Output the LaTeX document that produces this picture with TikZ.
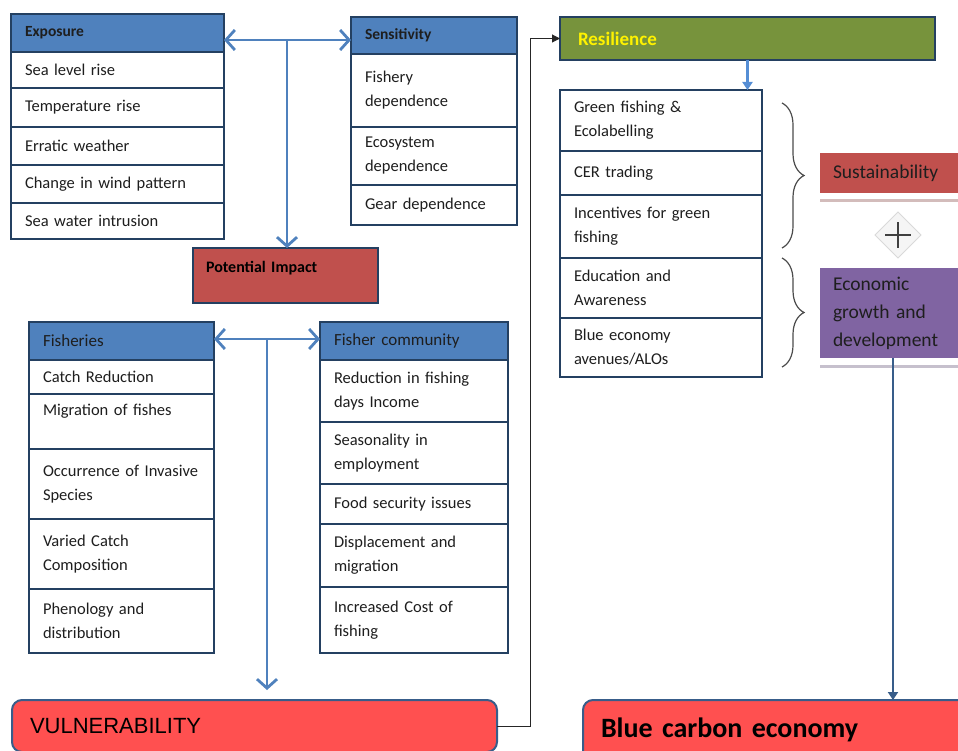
\documentclass[tikz,border=0pt]{standalone}
\usepackage{fontspec}
\setmainfont{Carlito}
\newfontfamily\arialfont{Liberation Sans}
\usepackage{xcolor}
\usetikzlibrary{arrows.meta, positioning, decorations.pathreplacing, shapes.geometric}
\definecolor{navy}{RGB}{36,64,97}
\definecolor{hdrblue}{RGB}{79,129,189}
\definecolor{imred}{RGB}{192,80,77}
\definecolor{vulred}{RGB}{255,80,80}
\definecolor{olive}{RGB}{119,147,60}
\definecolor{plum}{RGB}{128,100,162}
\definecolor{steel}{RGB}{56,93,138}
\definecolor{arblue}{RGB}{79,129,189}
\definecolor{skyblue}{RGB}{85,142,213}
\definecolor{ink}{RGB}{30,30,30}

\begin{document}
\begin{tikzpicture}[x=1pt, y=-1pt,
      every node/.style={font=\fontsize{16.5}{24}\selectfont, text=ink, outer sep=0pt},
      hdr/.style={draw=navy, fill=hdrblue, line width=2.5pt, align=left, inner xsep=14pt, inner ysep=0pt,
                  text width=#1, minimum height=38pt, anchor=north west, font=\fontsize{17}{20}\selectfont},
      item/.style={draw=navy, fill=white, line width=2.5pt, align=left, inner xsep=14pt, inner ysep=0pt, text width=#1},
      flat/.style={align=left, inner xsep=13pt, inner ysep=0pt, anchor=north west},
      big/.style={draw=steel, fill=vulred, line width=2pt, rounded corners=10pt, align=left, inner xsep=18pt,
                  inner ysep=0pt, anchor=north west, text=black},
      ar/.style={-{Straight Barb[length=9pt, width=20pt]}, draw=arblue, line width=2.8pt},
      thin/.style={-{Triangle[length=8pt, width=10pt]}, line width=2.2pt},
      brc/.style={decorate, decoration={brace, amplitude=22pt}, draw=black!70, line width=1.2pt},
      shade/.style={line width=3pt, draw=#1},
      plus/.style={diamond, minimum width=46pt, minimum height=46pt, fill=gray!8, draw=gray!30, line width=1pt,
                   path picture={\draw[line width=1.3pt, black!75]
                     ([xshift=-13pt]path picture bounding box.center) -- ([xshift=13pt]path picture bounding box.center)
                     ([yshift=-13pt]path picture bounding box.center) -- ([yshift=13pt]path picture bounding box.center);}}]
    \useasboundingbox (0,0) rectangle (958,751);
    \clip (0,0) rectangle (958,751);

    % exposure and sensitivity
    \node[hdr=185pt, font=\fontsize{15.5}{18}\selectfont] (exp) at (11,14) {\textbf{Exposure}};
    \node[item=185pt, below=0pt of exp, minimum height=36pt] (e1) {Sea level rise};
    \node[item=185pt, below=0pt of e1, minimum height=39pt] (e2) {Temperature rise};
    \node[item=185pt, below=0pt of e2, minimum height=38pt] (e3) {Erratic weather};
    \node[item=185pt, below=0pt of e3, minimum height=38pt] (e4) {Change in wind pattern};
    \node[item=185pt, below=0pt of e4, minimum height=36pt] (e5) {Sea water intrusion};

    \node[hdr=138pt, minimum height=37pt, font=\fontsize{15.5}{18}\selectfont] (sen) at (351,17) {\textbf{Sensitivity}};
    \node[item=138pt, below=0pt of sen, minimum height=73pt] (s1) {Fishery\\dependence};
    \node[item=138pt, below=0pt of s1, minimum height=58pt] (s2) {Ecosystem\\dependence};
    \node[item=138pt, below=0pt of s2, minimum height=40pt] (s3) {Gear dependence};

    \node[draw=navy, fill=imred, line width=2.5pt, flat, text width=159pt, minimum height=55pt,
          font=\fontsize{16}{17}\selectfont, text=black] (imp) at (193,248) {\textbf{Potential Impact}\\\mbox{}};

    \coordinate (j1) at (287,40);
    \draw[ar] (j1) -- (j1 -| exp.east);
    \draw[ar] (j1) -- (j1 -| sen.west);
    \draw[ar] (j1) -- (j1 |- imp.north);

    % fisheries and fisher community
    \node[hdr=157pt] (fis) at (29,322) {Fisheries};
    \node[item=157pt, below=0pt of fis, minimum height=34pt] (f1) {Catch Reduction};
    \node[item=157pt, below=0pt of f1, minimum height=55pt] (f2) {Migration of fishes\\\mbox{}};
    \node[item=157pt, below=0pt of f2, minimum height=70pt] (f3) {Occurrence of Invasive\\Species};
    \node[item=157pt, below=0pt of f3, minimum height=70pt] (f4) {Varied Catch\\Composition};
    \node[item=157pt, below=0pt of f4, minimum height=64pt] (f5) {Phenology and\\distribution};

    \node[hdr=160pt] (com) at (320,322) {Fisher community};
    \node[item=160pt, below=0pt of com, minimum height=62pt] (c1) {Reduction in fishing\\days Income};
    \node[item=160pt, below=0pt of c1, minimum height=62pt] (c2) {Seasonality in\\employment};
    \node[item=160pt, below=0pt of c2, minimum height=40pt] (c3) {Food security issues};
    \node[item=160pt, below=0pt of c3, minimum height=63pt] (c4) {Displacement and\\migration};
    \node[item=160pt, below=0pt of c4, minimum height=66pt] (c5) {Increased Cost of\\fishing};

    \node[big, text width=449pt, minimum height=52pt] (vul) at (12,700)
          {\arialfont\fontsize{22}{24}\selectfont VULNERABILITY};

    \coordinate (j2) at (267,339);
    \draw[ar] (j2) -- (j2 -| fis.east);
    \draw[ar] (j2) -- (j2 -| com.west);
    \draw[ar, shorten >=10pt] (j2) -- (j2 |- vul.north);

    % resilience
    \node[draw=navy, fill=olive, line width=2.5pt, flat, inner xsep=18pt, text width=339pt, minimum height=43pt,
          font=\fontsize{19}{21}\selectfont, text=yellow] (res) at (560,17) {\textbf{Resilience}};
    \node[item=174pt, anchor=north west, minimum height=61pt] (r1) at (560,90) {Green fishing \&\\Ecolabelling};
    \node[item=174pt, below=0pt of r1, minimum height=44pt] (r2) {CER trading};
    \node[item=174pt, below=0pt of r2, minimum height=63pt] (r3) {Incentives for green\\fishing};
    \node[item=174pt, below=0pt of r3, minimum height=60pt] (r4) {Education and\\Awareness};
    \node[item=174pt, below=0pt of r4, minimum height=59pt] (r5) {Blue economy\\avenues/ALOs};
    \draw[thin, skyblue] (res.south) -- (res.south |- r1.north);
    \draw[->, >={Triangle[length=8pt, width=8pt]}, line width=1pt, black!85]
          (vul.east) -| ([xshift=-30pt]res.west) -- (res.west);

    \draw[brc] ([shift={(20,13)}]r1.north east) -- ([shift={(20,-10)}]r3.south east);
    \draw[brc] ([shift={(20,0)}]r4.north east) -- ([shift={(20,-10)}]r5.south east);

    \node[flat, fill=imred, text width=120pt, minimum height=40pt, font=\fontsize{19.5}{22}\selectfont] (sus) at (820,153) {Sustainability};
    \draw[shade=imred!45!gray!45] ([yshift=-8pt]sus.south west) -- ([yshift=-8pt]sus.south east);
    \node[plus] (pl) at (898,235) {};
    \node[flat, fill=plum, text width=120pt, minimum height=90pt, font=\fontsize{19.5}{28}\selectfont] (eco) at (820,268)
          {Economic\\growth and\\development};
    \draw[shade=plum!45!gray!45] ([yshift=-8pt]eco.south west) -- ([yshift=-8pt]eco.south east);

    \node[big, text width=364pt, minimum height=60pt, font=\fontsize{28}{30}\selectfont] (bce) at (583,700)
          {\textbf{Blue carbon economy}};
    \draw[thin, steel] (eco.south) -- (eco.south |- bce.north);
  \end{tikzpicture}
\end{document}
